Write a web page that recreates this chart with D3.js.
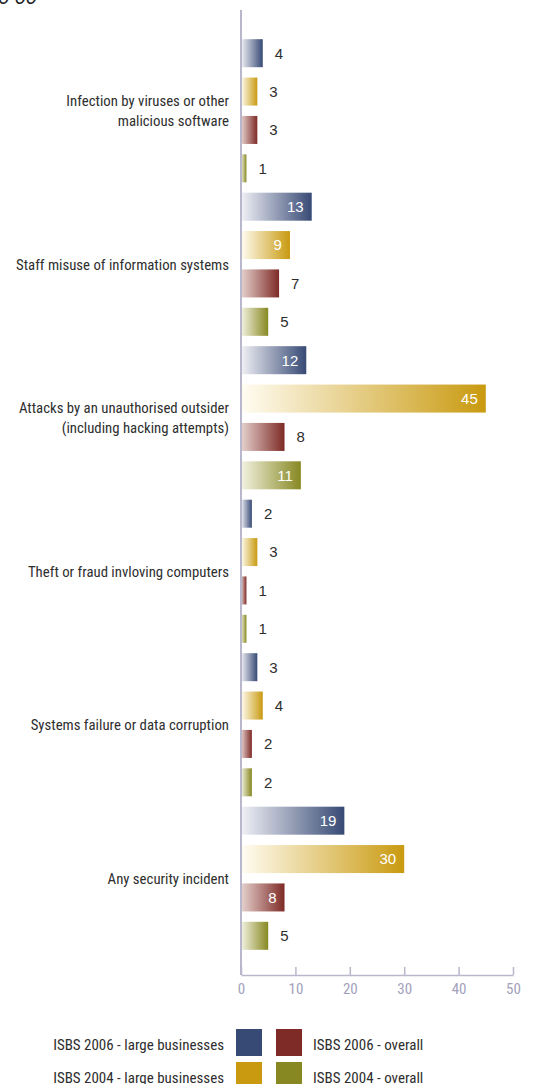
<!DOCTYPE html>
<html>
<head>
<meta charset="utf-8">
<script src="https://cdn.jsdelivr.net/npm/d3@7"></script>
<style>
  body { margin: 0; background: #fff; }
  svg { display: block; }
</style>
</head>
<body>
<div id="wrapper"></div>
<script>
// data
const categories = [
    "Infection by viruses or other\nmalicious software",
    "Staff misuse of information systems",
    "Attacks by an unauthorised outsider\n(including hacking attempts)",
    "Theft or fraud invloving computers",
    "Systems failure or data corruption",
    "Any security incident"
]
const seriesNames = [
    "ISBS 2006 - large businesses",
    "ISBS 2004 - large businesses",
    "ISBS 2006 - overall",
    "ISBS 2004 - overall"
]
const large2006 = [4, 13, 12, 2, 3, 19]
const large2004 = [3, 9, 45, 3, 4, 30]
const overall2006 = [3, 7, 8, 1, 2, 8]
const overall2004 = [1, 5, 11, 1, 2, 5]
const xTicks = [0, 10, 20, 30, 40, 50]

const seriesValues = [large2006, large2004, overall2006, overall2004]

function drawChart() {
    const dimensions = {
        width: 534,
        height: 1084,
        margin: { top: 10, left: 241, right: 21, bottom: 109 }
    }

    const colors = ["#374a75", "#c99a10", "#7e2a26", "#878822"]
    const lightColors = ["#f1f1f6", "#fffcf2", "#e6d2ce", "#f3f3e2"]

    const narrow = "'Liberation Sans Narrow', 'Roboto Condensed', 'DejaVu Sans Condensed', Arial, sans-serif"

    // rows: one per bar
    const rows = []
    categories.forEach((c, ci) => {
        seriesNames.forEach((s, si) => {
            rows.push({ cat: c, ci: ci, series: s, si: si, value: seriesValues[si][ci], key: ci + "-" + si })
        })
    })

    const svg = d3.select("#wrapper")
        .append("svg")
        .attr("width", dimensions.width)
        .attr("height", dimensions.height)

    const defs = svg.append("defs")
    colors.forEach((c, i) => {
        const g = defs.append("linearGradient")
            .attr("id", "grad" + i)
            .attr("x1", "0%").attr("x2", "100%")
            .attr("y1", "0%").attr("y2", "0%")
        g.append("stop").attr("offset", "0%").attr("stop-color", lightColors[i])
        g.append("stop").attr("offset", "100%").attr("stop-color", c)
    })

    // scales
    const xScale = d3.scaleLinear()
        .domain([0, 50])
        .range([241, 513])

    const yScale = d3.scaleBand()
        .domain(rows.map(d => d.key))
        .range([34, 955])
        .paddingInner(0.27)
        .paddingOuter(0.135)

    // stray title fragment at the top
    svg.append("text")
        .attr("x", -2)
        .attr("y", 4)
        .attr("font-family", "Arial, sans-serif")
        .attr("font-style", "italic")
        .attr("font-size", 20)
        .attr("fill", "#222")
        .text("6 00")

    // bars
    svg.selectAll(".bar")
        .data(rows)
        .join("rect")
        .attr("class", "bar")
        .attr("x", xScale(0))
        .attr("y", d => yScale(d.key))
        .attr("width", d => xScale(d.value) - xScale(0))
        .attr("height", yScale.bandwidth())
        .attr("fill", d => "url(#grad" + d.si + ")")

    // value labels
    const isInside = d => d.value >= 9 || (d.ci == 5 && d.si == 2)
    svg.selectAll(".val")
        .data(rows)
        .join("text")
        .attr("class", "val")
        .attr("x", d => isInside(d) ? xScale(d.value) - 8 : xScale(d.value) + 12)
        .attr("y", d => yScale(d.key) + yScale.bandwidth() / 2)
        .attr("dy", "0.36em")
        .attr("text-anchor", d => isInside(d) ? "end" : "start")
        .attr("font-family", "Arial, 'Liberation Sans', sans-serif")
        .attr("font-size", 15)
        .attr("fill", d => isInside(d) ? "#fff" : "#2e2e2e")
        .text(d => d.value)

    // category labels
    const catLabels = svg.selectAll(".cat")
        .data(categories)
        .join("text")
        .attr("class", "cat")
        .attr("text-anchor", "end")
        .attr("font-family", narrow)
        .attr("font-size", 14.8)
        .attr("fill", "#2e2e2e")
    catLabels.each(function (c, i) {
        const lines = c.split("\n")
        const top = yScale(i + "-0")
        const bottom = yScale(i + "-3") + yScale.bandwidth()
        const mid = (top + bottom) / 2
        const lh = 20
        d3.select(this).selectAll("tspan")
            .data(lines)
            .join("tspan")
            .attr("x", 229)
            .attr("y", (l, j) => mid - (lines.length - 1) * lh / 2 + j * lh)
            .attr("dy", "0.36em")
            .text(l => l)
    })

    // axes
    const axisColor = "#b9b7cc"
    svg.append("line")
        .attr("x1", xScale(0)).attr("x2", xScale(0))
        .attr("y1", 10).attr("y2", 975)
        .attr("stroke", axisColor)
        .attr("stroke-width", 2)

    const xAxisGenerator = d3.axisTop(xScale)
        .tickValues(xTicks)
        .tickSize(8)
        .tickSizeOuter(0)
        .tickFormat(d => d)

    const xAxis = svg.append("g")
        .attr("transform", "translate(0, 975)")
        .call(xAxisGenerator)
    xAxis.select(".domain").attr("stroke", axisColor).attr("stroke-width", 1.5)
    xAxis.selectAll(".tick line").attr("stroke", axisColor).attr("stroke-width", 1.5)
    xAxis.selectAll(".tick text")
        .attr("y", 14)
        .attr("dy", "0.36em")
        .attr("fill", "#a3a1bb")
        .attr("font-family", narrow)
        .attr("font-size", 15)

    // legend
    const legendItems = [
        { name: seriesNames[0], si: 0, row: 0, side: "left" },
        { name: seriesNames[2], si: 2, row: 0, side: "right" },
        { name: seriesNames[1], si: 1, row: 1, side: "left" },
        { name: seriesNames[3], si: 3, row: 1, side: "right" }
    ]
    const legend = svg.append("g")
    legendItems.forEach(item => {
        const y0 = 1029 + item.row * 33
        legend.append("rect")
            .attr("x", item.side == "left" ? 236 : 276)
            .attr("y", y0)
            .attr("width", 26)
            .attr("height", 27)
            .attr("fill", colors[item.si])
        legend.append("text")
            .attr("x", item.side == "left" ? 224 : 313)
            .attr("y", y0 + 16)
            .attr("dy", "0.36em")
            .attr("text-anchor", item.side == "left" ? "end" : "start")
            .attr("font-family", narrow)
            .attr("font-size", 15)
            .attr("fill", "#2e2e2e")
            .text(item.name)
    })
}
drawChart()
</script>
</body>
</html>
